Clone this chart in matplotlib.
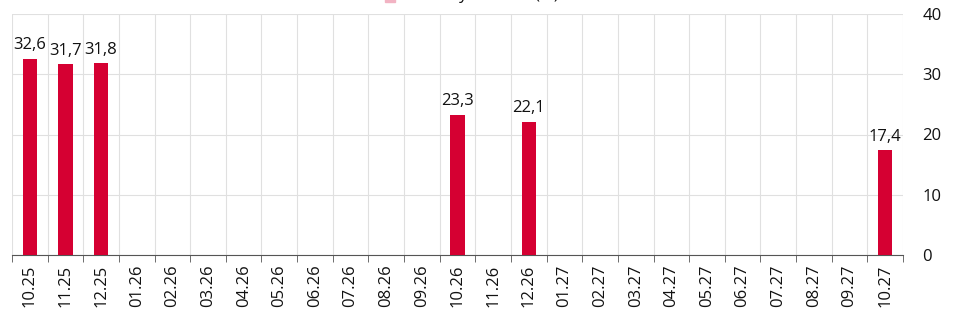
import matplotlib.pyplot as plt
from matplotlib.patches import Rectangle
import numpy as np

months = ["10.25", "11.25", "12.25", "01.26", "02.26", "03.26", "04.26", "05.26",
          "06.26", "07.26", "08.26", "09.26", "10.26", "11.26", "12.26", "01.27",
          "02.27", "03.27", "04.27", "05.27", "06.27", "07.27", "08.27", "09.27", "10.27"]
values = [32.6, 31.7, 31.8, None, None, None, None, None, None, None, None, None,
          23.3, None, 22.1, None, None, None, None, None, None, None, None, None, 17.4]
legend_label = "Annual yield rate (%)"

plt.rcParams['font.family'] = ['Open Sans', 'DejaVu Sans']

fig = plt.figure(figsize=(9.55, 3.22), dpi=100)
ax = fig.add_axes([12/955, 1-255/322, 891/955, 241/322])

x = np.arange(len(months))
idx = [i for i, v in enumerate(values) if v is not None]
vals = [values[i] for i in idx]
ax.bar(idx, vals, width=0.4, color="#d50032", zorder=3)
for i, v in zip(idx, vals):
    ax.text(i, v + 0.9, f"{v:.1f}".replace(".", ","), ha="center", va="bottom",
            fontsize=12, color="#111111", zorder=4)

ax.set_xlim(-0.5, len(months) - 0.5)
ax.set_ylim(0, 40)
ax.set_xticks(x)
ax.set_xticklabels(months, rotation=90, fontsize=12, color="#111111")
ax.set_xticks(np.arange(len(months) + 1) - 0.5, minor=True)
ax.tick_params(axis="x", which="major", length=0, pad=7)
ax.tick_params(axis="x", which="minor", length=5, color="#555555")
ax.grid(True, which="minor", axis="x", color="#e0e0e0", lw=0.8, zorder=0)

ax.yaxis.tick_right()
ax.set_yticks([0, 10, 20, 30, 40])
ax.tick_params(axis="y", length=0, labelsize=12, labelcolor="#111111", pad=14)
ax.grid(True, which="major", axis="y", color="#e0e0e0", lw=0.8, zorder=0)

for s in ["top", "left", "right"]:
    ax.spines[s].set_visible(False)
ax.spines["bottom"].set_color("#555555")

# legend sits above the visible area, only its lower edge shows
fig.patches.append(Rectangle((385/955, 1 - 1.5/322), 10/955, 12/322,
                             transform=fig.transFigure, color="#f2b3c3"))
fig.text(400/955, 1 + 1/322, legend_label, fontsize=12, color="#111111",
         ha="left", va="baseline")

fig.savefig("out.png", dpi=100)
